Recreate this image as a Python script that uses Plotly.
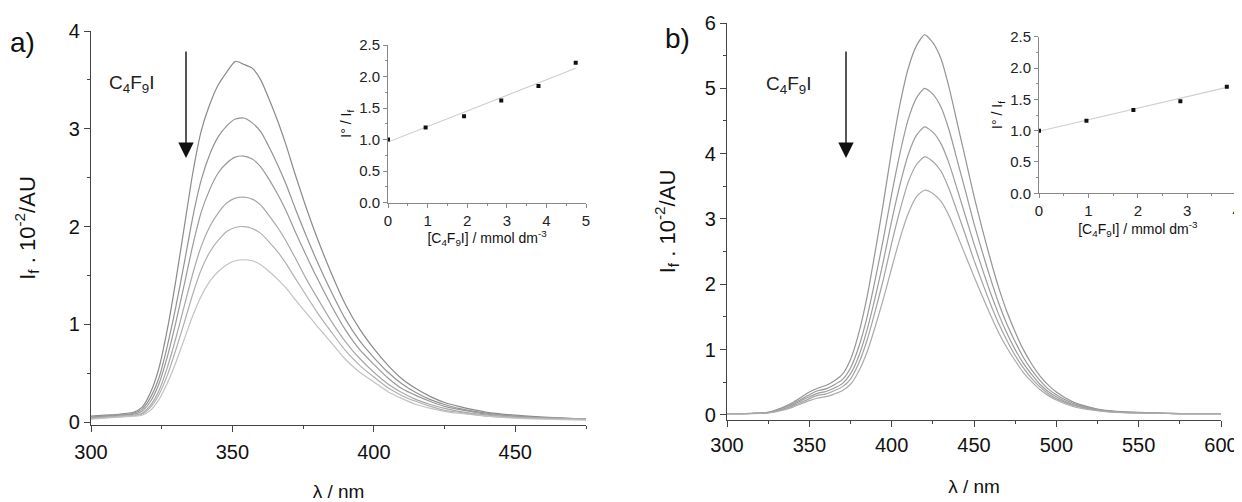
import plotly.graph_objects as go

# === Panel a: emission spectra, lambda 300-475 nm (I_f . 10^-2 / AU) ===
wl_a = [300, 305, 310, 315, 318, 321, 324, 327, 330, 333, 336, 339, 342, 345, 348, 351, 354, 357,
        360, 363, 366, 369, 372, 376, 380, 385, 390, 395, 400, 405, 410, 415, 420, 425, 430, 440,
        450, 460, 475]

spec_a1 = [0.06, 0.07, 0.08, 0.10, 0.15, 0.30, 0.55, 0.95, 1.45, 2.00, 2.55, 2.98, 3.25, 3.45, 3.58,
           3.69, 3.66, 3.62, 3.50, 3.30, 3.08, 2.83, 2.55, 2.20, 1.88, 1.52, 1.20, 0.95, 0.75, 0.58,
           0.44, 0.34, 0.26, 0.20, 0.16, 0.10, 0.07, 0.05, 0.03]
spec_a2 = [0.05, 0.06, 0.07, 0.09, 0.13, 0.25, 0.45, 0.78, 1.18, 1.63, 2.10, 2.48, 2.74, 2.92, 3.03,
           3.10, 3.11, 3.06, 2.97, 2.81, 2.63, 2.43, 2.20, 1.91, 1.64, 1.33, 1.05, 0.83, 0.66, 0.51,
           0.39, 0.30, 0.23, 0.18, 0.14, 0.09, 0.06, 0.045, 0.03]
spec_a3 = [0.045, 0.06, 0.07, 0.08, 0.11, 0.21, 0.39, 0.67, 1.02, 1.41, 1.81, 2.15, 2.38, 2.55, 2.65,
           2.71, 2.72, 2.69, 2.61, 2.48, 2.33, 2.16, 1.96, 1.71, 1.47, 1.19, 0.94, 0.74, 0.59, 0.45,
           0.34, 0.27, 0.21, 0.16, 0.13, 0.08, 0.06, 0.04, 0.03]
spec_a4 = [0.04, 0.05, 0.06, 0.07, 0.09, 0.17, 0.32, 0.56, 0.86, 1.19, 1.52, 1.80, 2.00, 2.14, 2.24,
           2.29, 2.30, 2.28, 2.22, 2.11, 1.99, 1.85, 1.69, 1.47, 1.27, 1.03, 0.82, 0.65, 0.51, 0.39,
           0.30, 0.23, 0.18, 0.14, 0.11, 0.07, 0.05, 0.04, 0.03]
spec_a5 = [0.035, 0.045, 0.055, 0.065, 0.08, 0.15, 0.28, 0.48, 0.74, 1.02, 1.31, 1.56, 1.74, 1.86,
           1.95, 1.99, 2.00, 1.98, 1.93, 1.84, 1.74, 1.62, 1.48, 1.30, 1.12, 0.92, 0.73, 0.58, 0.46,
           0.35, 0.27, 0.21, 0.16, 0.12, 0.10, 0.06, 0.045, 0.035, 0.03]
spec_a6 = [0.03, 0.04, 0.05, 0.06, 0.07, 0.12, 0.23, 0.40, 0.61, 0.85, 1.09, 1.29, 1.44, 1.54, 1.61,
           1.65, 1.66, 1.65, 1.61, 1.54, 1.46, 1.37, 1.26, 1.12, 0.98, 0.81, 0.64, 0.51, 0.41, 0.31,
           0.24, 0.18, 0.14, 0.11, 0.09, 0.06, 0.04, 0.03, 0.02]

# === Panel b: emission spectra, lambda 300-600 nm ===
wl_b = [300, 310, 320, 325, 330, 335, 340, 345, 350, 355, 360, 365, 370, 375, 380, 385, 390, 395,
        400, 405, 410, 415, 420, 425, 430, 435, 440, 445, 450, 455, 460, 465, 470, 475, 480, 485,
        490, 495, 500, 510, 520, 530, 540, 550, 560, 575, 600]

spec_b1 = [0.02, 0.02, 0.03, 0.04, 0.08, 0.13, 0.19, 0.27, 0.35, 0.41, 0.45, 0.52, 0.62, 0.85, 1.25,
           1.80, 2.50, 3.25, 4.05, 4.75, 5.30, 5.65, 5.82, 5.70, 5.45, 5.00, 4.45, 3.90, 3.35, 2.85,
           2.38, 1.95, 1.58, 1.27, 1.00, 0.78, 0.60, 0.46, 0.35, 0.20, 0.12, 0.07, 0.05, 0.04, 0.03,
           0.02, 0.02]
spec_b2 = [0.02, 0.02, 0.03, 0.04, 0.07, 0.12, 0.17, 0.24, 0.31, 0.37, 0.40, 0.46, 0.54, 0.72, 1.04,
           1.49, 2.07, 2.70, 3.38, 4.00, 4.52, 4.85, 5.00, 4.91, 4.71, 4.35, 3.88, 3.41, 2.93, 2.50,
           2.09, 1.71, 1.39, 1.12, 0.88, 0.69, 0.53, 0.40, 0.31, 0.18, 0.11, 0.065, 0.045, 0.035,
           0.03, 0.02, 0.02]
spec_b3 = [0.02, 0.02, 0.03, 0.035, 0.065, 0.10, 0.15, 0.22, 0.28, 0.33, 0.36, 0.41, 0.48, 0.63, 0.90,
           1.30, 1.80, 2.36, 2.97, 3.52, 3.98, 4.28, 4.41, 4.33, 4.15, 3.84, 3.44, 3.03, 2.62, 2.24,
           1.87, 1.54, 1.25, 1.00, 0.79, 0.62, 0.47, 0.36, 0.28, 0.16, 0.10, 0.06, 0.04, 0.035, 0.03,
           0.02, 0.02]
spec_b4 = [0.02, 0.02, 0.03, 0.035, 0.06, 0.09, 0.14, 0.19, 0.25, 0.30, 0.32, 0.37, 0.43, 0.55, 0.79,
           1.14, 1.59, 2.08, 2.63, 3.13, 3.56, 3.83, 3.95, 3.88, 3.73, 3.45, 3.10, 2.74, 2.37, 2.03,
           1.70, 1.40, 1.14, 0.91, 0.72, 0.56, 0.43, 0.33, 0.25, 0.15, 0.09, 0.055, 0.04, 0.03, 0.025,
           0.02, 0.02]
spec_b5 = [0.02, 0.02, 0.025, 0.03, 0.05, 0.08, 0.12, 0.17, 0.22, 0.26, 0.28, 0.32, 0.37, 0.47, 0.67,
           0.96, 1.35, 1.78, 2.25, 2.70, 3.08, 3.34, 3.44, 3.39, 3.27, 3.04, 2.74, 2.43, 2.12, 1.82,
           1.53, 1.26, 1.03, 0.83, 0.65, 0.51, 0.39, 0.30, 0.23, 0.13, 0.08, 0.05, 0.035, 0.03, 0.025,
           0.02, 0.02]

# === Insets: Stern-Volmer plots ===
conc_a = [0, 0.95, 1.92, 2.86, 3.80, 4.74]
sv_a = [1.00, 1.19, 1.37, 1.62, 1.85, 2.22]
fit_a_x = [0, 4.74]
fit_a_y = [0.96, 2.13]

conc_b = [0, 0.96, 1.91, 2.86, 3.80]
sv_b = [1.00, 1.16, 1.33, 1.47, 1.70]
fit_b_x = [0, 3.80]
fit_b_y = [0.99, 1.69]

FONT = "Arial, Liberation Sans, sans-serif"
# page body keeps its default 8 px margin, so the figure is drawn 8 px in from the corner
OFF = 8
W, H = 1242 - OFF, 502 - OFF
grays_a = ["#8a8a8a", "#939393", "#999999", "#a8a8a8", "#b0b0b0", "#c2c2c2"]
grays_b = ["#959595", "#999999", "#9d9d9d", "#a3a3a3", "#aaaaaa"]


def px_x(p):
    return (p - OFF) / W


def px_y(p):
    return (H - (p - OFF)) / H


fig = go.Figure()

for ys, c in zip([spec_a1, spec_a2, spec_a3, spec_a4, spec_a5, spec_a6], grays_a):
    fig.add_trace(go.Scatter(x=wl_a, y=ys, mode="lines",
                             line=dict(color=c, width=1.2, shape="spline", smoothing=0.6),
                             xaxis="x", yaxis="y", showlegend=False))

for ys, c in zip([spec_b1, spec_b2, spec_b3, spec_b4, spec_b5], grays_b):
    fig.add_trace(go.Scatter(x=wl_b, y=ys, mode="lines",
                             line=dict(color=c, width=1.2, shape="spline", smoothing=0.6),
                             xaxis="x2", yaxis="y2", showlegend=False))

# insets
fig.add_trace(go.Scatter(x=fit_a_x, y=fit_a_y, mode="lines", line=dict(color="#cfcfcf", width=1.2),
                         xaxis="x3", yaxis="y3", showlegend=False))
fig.add_trace(go.Scatter(x=conc_a, y=sv_a, mode="markers",
                         marker=dict(symbol="square", size=4, color="#111"),
                         xaxis="x3", yaxis="y3", showlegend=False))
fig.add_trace(go.Scatter(x=fit_b_x, y=fit_b_y, mode="lines", line=dict(color="#cfcfcf", width=1.2),
                         xaxis="x4", yaxis="y4", showlegend=False))
fig.add_trace(go.Scatter(x=conc_b, y=sv_b, mode="markers",
                         marker=dict(symbol="square", size=4, color="#111"),
                         xaxis="x4", yaxis="y4", showlegend=False))

axis_common = dict(showgrid=False, zeroline=False, showline=True, linecolor="#444", linewidth=1.3,
                   ticks="outside", ticklen=6, tickwidth=1.2, tickcolor="#444",
                   tickfont=dict(family=FONT, size=20, color="#111"), automargin=False)
inset_common = dict(showgrid=False, zeroline=False, showline=True, linecolor="#888", linewidth=1,
                    ticks="outside", ticklen=4, tickwidth=1, tickcolor="#888",
                    tickfont=dict(family=FONT, size=15, color="#222"), automargin=False)

ytitle = "I<sub>f</sub> . 10<sup>-2</sup>/AU"
xtitle = "λ / nm"
ins_x = "[C<sub>4</sub>F<sub>9</sub>I] / mmol dm<sup>-3</sup>"
ins_y = "I° / I<sub>f</sub>"

fig.update_layout(
    width=W, height=H,
    margin=dict(l=0, r=0, t=0, b=0),
    paper_bgcolor="white", plot_bgcolor="rgba(0,0,0,0)",
    font=dict(family=FONT, color="#111"),
    xaxis=dict(axis_common, domain=[px_x(91), px_x(586)], range=[300, 475], anchor="y",
               tickvals=[300, 350, 400, 450], minor=dict(ticks="outside", ticklen=3, dtick=25),
               ticklabelstandoff=3,
               title=dict(text=xtitle, font=dict(size=19), standoff=24)),
    yaxis=dict(axis_common, domain=[px_y(425), px_y(31)], range=[-0.03, 4], anchor="x",
               tickvals=[0, 1, 2, 3, 4], minor=dict(ticks="outside", ticklen=3, dtick=0.5),
               title=dict(text=ytitle, font=dict(size=22), standoff=27)),
    xaxis2=dict(axis_common, domain=[px_x(727), px_x(1221)], range=[300, 600], anchor="y2",
                tickvals=[300, 350, 400, 450, 500, 550, 600],
                minor=dict(ticks="outside", ticklen=3, dtick=25),
                ticklabelstandoff=1,
                title=dict(text=xtitle, font=dict(size=19), standoff=24)),
    yaxis2=dict(axis_common, domain=[px_y(420), px_y(23)], range=[-0.077, 6], anchor="x2",
                tickvals=[0, 1, 2, 3, 4, 5, 6], minor=dict(ticks="outside", ticklen=3, dtick=0.5),
                title=dict(text=ytitle, font=dict(size=22), standoff=23)),
    xaxis3=dict(inset_common, domain=[px_x(388), px_x(586)], range=[0, 5], anchor="y3",
                tickvals=[0, 1, 2, 3, 4, 5], minor=dict(ticks="outside", ticklen=2, dtick=0.5),
                title=dict(text=ins_x, font=dict(size=14), standoff=4)),
    yaxis3=dict(inset_common, domain=[px_y(202.5), px_y(45)], range=[0, 2.5], anchor="x3",
                tickvals=[0, 0.5, 1, 1.5, 2, 2.5], tickformat=".1f",
                minor=dict(ticks="outside", ticklen=2, dtick=0.25),
                title=dict(text=ins_y, font=dict(size=14), standoff=4)),
    xaxis4=dict(inset_common, domain=[px_x(1039), px_x(1236.7)], range=[0, 4], anchor="y4",
                tickvals=[0, 1, 2, 3, 4], minor=dict(ticks="outside", ticklen=2, dtick=0.5),
                title=dict(text=ins_x, font=dict(size=14), standoff=4)),
    yaxis4=dict(inset_common, domain=[px_y(193.3), px_y(36.7)], range=[0, 2.5], anchor="x4",
                tickvals=[0, 0.5, 1, 1.5, 2, 2.5], tickformat=".1f",
                minor=dict(ticks="outside", ticklen=2, dtick=0.25),
                title=dict(text=ins_y, font=dict(size=14), standoff=4)),
)

# panel labels, quencher labels and arrows
for txt, x, y in [("a)", 22, 43), ("b)", 677, 39)]:
    fig.add_annotation(text=txt, x=px_x(x), y=px_y(y), xref="paper", yref="paper",
                       xanchor="center", yanchor="middle",
                       showarrow=False, font=dict(family=FONT, size=28, color="#111"))

for x, y in [(131, 84), (789, 85)]:
    fig.add_annotation(text="C<sub>4</sub>F<sub>9</sub>I", x=px_x(x), y=px_y(y), xref="paper",
                       yref="paper", xanchor="center", yanchor="middle",
                       showarrow=False, font=dict(family=FONT, size=19, color="#222"))

for x in [186, 846]:
    fig.add_annotation(text="", x=px_x(x), y=px_y(158), xref="paper", yref="paper",
                       ax=0, ay=-108, showarrow=True, arrowhead=2, arrowsize=2.2,
                       arrowwidth=1.4, arrowcolor="#111")

fig.write_html("out.html")
